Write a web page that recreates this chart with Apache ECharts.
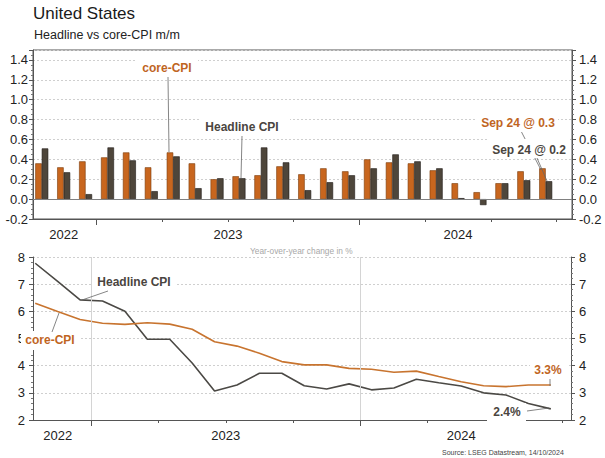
<!DOCTYPE html>
<html><head><meta charset="utf-8">
<script src="https://cdn.jsdelivr.net/npm/echarts@6/dist/echarts.min.js"></script>
<style>html,body{margin:0;padding:0;background:#fff}#c{width:605px;height:458px}</style>
</head><body><div id="c"></div>
<script>
// ---- data ----
const months = ['2022-10','2022-11','2022-12','2023-01','2023-02','2023-03','2023-04','2023-05','2023-06','2023-07','2023-08','2023-09','2023-10','2023-11','2023-12','2024-01','2024-02','2024-03','2024-04','2024-05','2024-06','2024-07','2024-08','2024-09'];
const yearLabels = ['2022','2023','2024'];
const coreMoM = [0.36,0.32,0.38,0.42,0.47,0.32,0.47,0.36,0.20,0.23,0.24,0.33,0.25,0.31,0.28,0.40,0.37,0.36,0.29,0.16,0.07,0.16,0.28,0.31];
const headMoM = [0.51,0.27,0.05,0.52,0.39,0.08,0.43,0.11,0.21,0.21,0.52,0.37,0.09,0.17,0.24,0.31,0.45,0.38,0.31,0.01,-0.06,0.16,0.19,0.18];
const headYoY = [7.77,7.10,6.42,6.38,6.00,4.97,4.97,4.10,3.07,3.29,3.72,3.72,3.26,3.14,3.33,3.11,3.18,3.50,3.37,3.25,3.00,2.92,2.61,2.41];
const coreYoY = [6.30,5.99,5.70,5.56,5.52,5.58,5.53,5.34,4.88,4.72,4.46,4.15,4.03,4.03,3.90,3.87,3.76,3.80,3.60,3.41,3.26,3.23,3.29,3.29];

// ---- derived positions (month i centred at i+0.5) ----
const pos = months.map((m, i) => i + 0.5);
const yearCenters = yearLabels.map(y => {
  const idx = months.map((m, i) => m.startsWith(y) ? i : -1).filter(i => i >= 0);
  return (idx[0] + idx[idx.length - 1] + 1) / 2;
});
const quarterTicks = months.map((m, i) => ([1,4,7,10].includes(+m.slice(5)) && i > 0) ? i : null)
  .filter(v => v !== null).concat([months.length]);
const yearTicks = months.map((m, i) => m.endsWith('-01') ? i : null).filter(v => v !== null);

const FONT = 'Liberation Sans, Arial, Helvetica, sans-serif';
const ORANGE = '#C8661E', DARK = '#4E463B';
const TXT_OR = '#C0651F', TXT_DK = '#4a4540';
const yearFmt = v => { const k = yearCenters.findIndex(c => Math.abs(c - v) < 1e-6); return k >= 0 ? yearLabels[k] : ''; };

function xPair(g, min, max) {
  return [
    { type: 'value', gridIndex: g, position: 'bottom', min, max,
      axisLine: { show: true, onZero: false, lineStyle: { color: '#555', width: 1 } },
      axisTick: { show: true, customValues: quarterTicks, length: 3, lineStyle: { color: '#555' } },
      axisLabel: { show: false }, splitLine: { show: false } },
    { type: 'value', gridIndex: g, position: 'bottom', min, max,
      axisLine: { show: false, onZero: false },
      axisTick: { show: true, customValues: yearTicks, length: 6, lineStyle: { color: '#555' } },
      axisLabel: { show: true, customValues: yearCenters, formatter: yearFmt, fontSize: 13, color: '#222', margin: 9, fontFamily: FONT },
      splitLine: { show: false } }
  ];
}
function yAx(g, side, min, max, interval, minorSplit, margin, fmt, split, showMax) {
  return { type: 'value', gridIndex: g, position: side, min, max, interval,
    axisLine: { show: true, onZero: false, lineStyle: { color: '#555' } },
    axisTick: { show: true, length: 4, lineStyle: { color: '#555' } },
    minorTick: { show: true, splitNumber: minorSplit, length: 2, lineStyle: { color: '#777' } },
    splitLine: { show: split, lineStyle: { color: '#cfcfcf', type: [2, 2] } },
    axisLabel: { fontSize: 13, color: '#222', margin, fontFamily: FONT, showMaxLabel: showMax, showMinLabel: true, formatter: fmt } };
}
const fmt1 = v => (Math.abs(v) < 1e-9 ? 0 : v).toFixed(1);
const fmt0 = v => String(Math.round(v));

const chart = echarts.init(document.getElementById('c'), null, { renderer: 'svg' });

function txt(text, x, y, color, size, bold) {
  return { type: 'text', z: 101, style: { text, x, y, fill: color, font: (bold ? 'bold ' : '') + size + 'px ' + FONT, align: 'center', verticalAlign: 'middle' } };
}
function box(x1, y1, x2, y2) {
  return { type: 'rect', z: 100, shape: { x: x1, y: y1, width: x2 - x1, height: y2 - y1 }, style: { fill: '#fff' } };
}
function ln(x1, y1, x2, y2, c) {
  return { type: 'line', z: 100, shape: { x1, y1, x2, y2 }, style: { stroke: c || '#666', lineWidth: 0.8 } };
}

chart.setOption({
  animation: false,
  backgroundColor: '#fff',
  textStyle: { fontFamily: FONT },
  title: [
    { text: 'United States', left: 33, top: 5, padding: 0, textStyle: { fontSize: 17, fontWeight: 'normal', color: '#1a1a1a', fontFamily: FONT } },
    { text: 'Headline vs core-CPI m/m', left: 34, top: 28, padding: 0, textStyle: { fontSize: 12.5, fontWeight: 'normal', color: '#222', fontFamily: FONT } },
    { text: 'Year-over-year change in %', left: 250, top: 247, padding: 0, textStyle: { fontSize: 8.3, fontWeight: 'normal', color: '#a8a8a8', fontFamily: FONT } },
    { text: 'Source: LSEG Datastream, 14/10/2024', left: 442, top: 449, padding: 0, textStyle: { fontSize: 7, fontWeight: 'normal', color: '#444', fontFamily: FONT } }
  ],
  grid: [
    { left: 33, right: 33, top: 50, height: 169, show: true, borderColor: '#555', borderWidth: 1, backgroundColor: 'transparent' },
    { left: 33, right: 34, top: 257, height: 163 }
  ],
  xAxis: [].concat(xPair(0, 0.1, 24.7), xPair(1, 0.4, 24.4)),
  yAxis: [
    yAx(0, 'left', -0.2, 1.5, 0.2, 4, 5, fmt1, true, false),
    yAx(0, 'right', -0.2, 1.5, 0.2, 4, 7, fmt1, false, false),
    yAx(1, 'left', 2, 8, 1, 5, 8, fmt0, true, true),
    yAx(1, 'right', 2, 8, 1, 5, 8, fmt0, false, true)
  ],
  series: [
    { name: 'core-CPI', type: 'bar', xAxisIndex: 0, yAxisIndex: 0, barWidth: 6.5, barGap: '0%',
      data: pos.map((u, i) => [u, coreMoM[i]]),
      itemStyle: { color: ORANGE, borderColor: '#7a3a0a', borderWidth: 0.6 },
      markLine: { silent: true, symbol: ['none', 'none'], label: { show: false }, lineStyle: { color: '#808080', width: 1, type: 'solid' }, data: [{ yAxis: 0 }] } },
    { name: 'Headline CPI', type: 'bar', xAxisIndex: 0, yAxisIndex: 0, barWidth: 6.5, barGap: '0%',
      data: pos.map((u, i) => [u, headMoM[i]]),
      itemStyle: { color: DARK, borderColor: '#1e1a15', borderWidth: 0.6 } },
    { name: 'Headline CPI y/y', type: 'line', xAxisIndex: 2, yAxisIndex: 2, symbol: 'none',
      data: pos.map((u, i) => [u, headYoY[i]]),
      lineStyle: { color: '#4b4945', width: 1.6 },
      markLine: { silent: true, symbol: ['none', 'none'], label: { show: false }, lineStyle: { color: '#d4d4d4', width: 1, type: 'solid' }, data: yearTicks.map(t => ({ xAxis: t })) } },
    { name: 'core-CPI y/y', type: 'line', xAxisIndex: 2, yAxisIndex: 2, symbol: 'none',
      data: pos.map((u, i) => [u, coreYoY[i]]),
      lineStyle: { color: '#C8742F', width: 1.6 } }
  ],
  graphic: { elements: [
    // top chart annotations
    box(137, 56, 198, 77), txt('core-CPI', 167, 68, TXT_OR, 12, true), ln(168, 77, 169, 152),
    box(199, 117, 290, 136), txt('Headline CPI', 242, 127, TXT_DK, 12, true), ln(242, 136, 241, 178),
    ln(521, 131, 541, 170),
    box(475, 115, 558, 132), txt('Sep 24 @ 0.3', 518, 123, TXT_OR, 12, true),
    box(488, 139, 570, 158), txt('Sep 24 @ 0.2', 529, 150, TXT_DK, 12, true),
    ln(537, 158, 547, 181),
    // bottom chart annotations
    box(93, 274, 177, 291), txt('Headline CPI', 134, 282, TXT_DK, 12, true), ln(108, 291, 82, 300),
    box(21, 331, 80, 350), txt('core-CPI', 50, 340, TXT_OR, 12, true), ln(52, 332, 59, 313),
    box(530, 362, 567, 378), txt('3.3%', 548, 370, TXT_OR, 12, true), ln(550, 379, 550, 386),
    box(487, 403, 526, 424), txt('2.4%', 507, 412, TXT_DK, 12, true), ln(527, 411, 549, 408)
  ] }
});
</script></body></html>
